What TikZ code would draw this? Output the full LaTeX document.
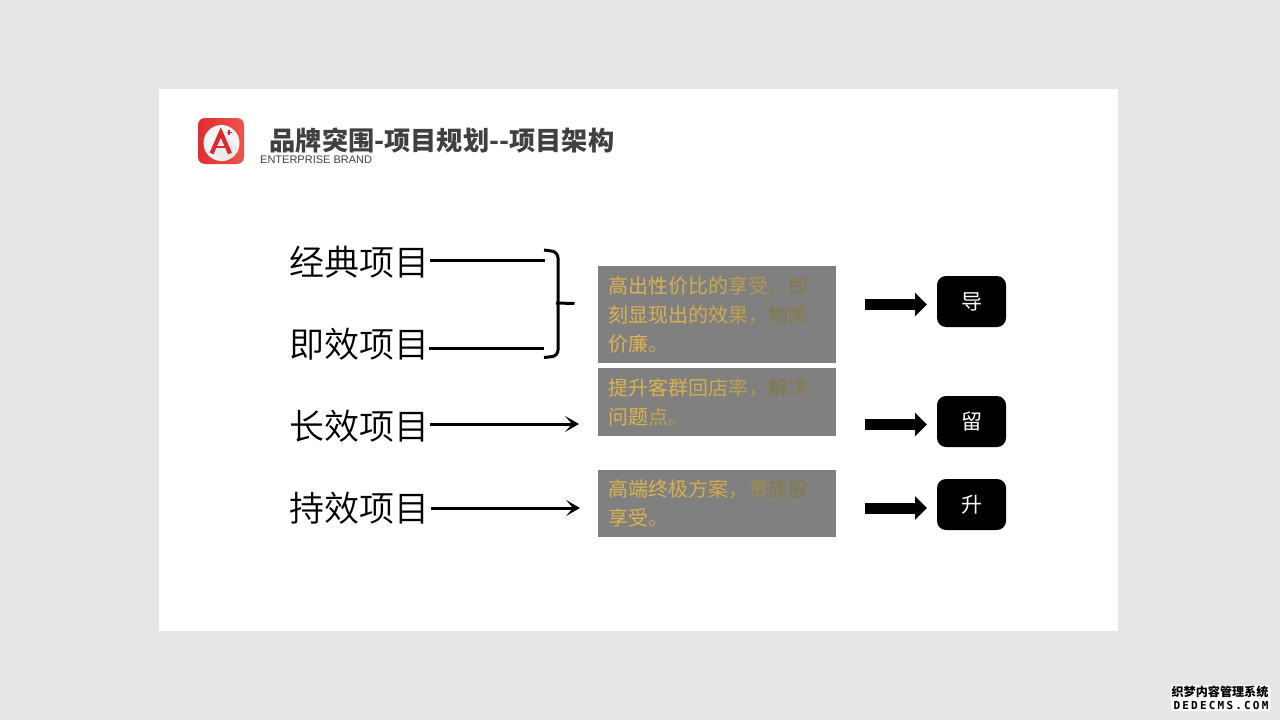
\documentclass[tikz,border=0pt]{standalone}
\usepackage{fontspec}
\usetikzlibrary{arrows.meta}
\setmainfont{Liberation Sans}
\newfontfamily\cjk{Noto Sans CJK SC}
\newfontfamily\cjklight{Noto Sans CJK SC DemiLight}
\newfontfamily\wmlatin[LetterSpace=20]{DejaVu Sans Mono Bold}
\definecolor{goldtxt}{HTML}{DDB24E}
\definecolor{dimtxt}{HTML}{7C7448}
\definecolor{gray808}{HTML}{808080}
\definecolor{logored}{RGB}{222,40,48}
\newcommand\gc[2]{\textcolor{goldtxt!#1!dimtxt}{#2}}
\begin{document}
\begin{tikzpicture}[x=1pt,y=-1pt,
  labeltxt/.style={inner sep=0pt,font={\cjklight\fontsize{35}{35}\selectfont},text height=30.8pt,text depth=4.2pt,black,anchor=center},
  greybox/.style={fill=gray808,inner sep=0pt,minimum width=238pt,text width=218pt,align=left,font={\cjk\fontsize{20}{29}\selectfont}},
  blackbox/.style={fill=black,rounded corners=9pt,minimum width=69pt,minimum height=51pt,inner sep=0pt,text=white,font={\cjk\fontsize{21}{21}\selectfont}},
  thickline/.style={line width=3pt},
  thinarrow/.style={line width=3pt,-{Stealth[length=14pt,width=16pt,inset=7pt]}},
  blockarrow/.style={line width=11pt,-{Triangle[length=12pt,width=23pt]}},
]
\useasboundingbox (0,0) rectangle (1280,720);
\fill[fill={rgb,255:red,230;green,228;blue,231}] (0,0) rectangle (1280,720);
\fill[white] (159,89) rectangle (1118,631);
% logo
\shade[left color={rgb,255:red,226;green,44;blue,48},right color={rgb,255:red,238;green,84;blue,80},rounded corners=7pt] (198,118) rectangle (244,164);
\fill[white!96!black] (221.5,143) circle (18);
\begin{scope}
\clip (221.5,143) circle (18);
\fill[black!8] (221,131) -- (245,155) -- (235,170) -- (212,153) -- cycle;
\end{scope}
\draw[line width=4.2pt,color=logored,line join=miter] (211.5,153.5) -- (220.8,132.5) -- (230,153.5);
\draw[line width=2.6pt,color=logored] (215,147) -- (227,147);
\draw[line width=1.6pt,color=logored] (226.5,132.5) -- (232,132.5) (229.2,129.8) -- (229.2,135.2);
% title
\node[anchor=west,inner sep=0pt,text=black!75,font={\cjk\bfseries\fontsize{26.2}{26}\selectfont}] (title) at (269.5,141) {品牌突围-项目规划--项目架构};
\node[anchor=west,inner sep=0pt,text=black!75,font={\fontsize{11}{11}\selectfont}] (sub) at (260,160) {ENTERPRISE BRAND};
% labels
\node[labeltxt] (l1) at (359,262) {经典项目};
\node[labeltxt] (l2) at (359,344) {即效项目};
\node[labeltxt] (l3) at (359,426) {长效项目};
\node[labeltxt] (l4) at (359,508) {持效项目};
% grey boxes
\node[greybox,minimum height=97pt] (b1) at (717,314.5) {\gc{100}{高}\gc{100}{出}\gc{100}{性}\gc{95}{价}\gc{90}{比}\gc{85}{的}\gc{70}{享}\gc{55}{受}\gc{20}{，}\gc{10}{即}\\
\gc{100}{刻}\gc{100}{显}\gc{100}{现}\gc{95}{出}\gc{90}{的}\gc{85}{效}\gc{70}{果}\gc{55}{，}\gc{5}{物}\gc{10}{美}\\
\gc{100}{价}\gc{100}{廉}\gc{85}{。}};
\node[greybox,minimum height=68pt] (b2) at (717,402) {\gc{100}{提}\gc{100}{升}\gc{100}{客}\gc{95}{群}\gc{90}{回}\gc{85}{店}\gc{70}{率}\gc{55}{，}\gc{5}{解}\gc{10}{决}\\
\gc{100}{问}\gc{100}{题}\gc{75}{点}\gc{55}{。}};
\node[greybox,minimum height=67pt] (b3) at (717,503.5) {\gc{100}{高}\gc{100}{端}\gc{100}{终}\gc{95}{极}\gc{90}{方}\gc{85}{案}\gc{70}{，}\gc{40}{贵}\gc{10}{族}\gc{5}{般}\\
\gc{100}{享}\gc{100}{受}\gc{85}{。}};
% black boxes
\node[blackbox] (k1) at (971.5,301.5) {导};
\node[blackbox] (k2) at (971.5,421.5) {留};
\node[blackbox] (k3) at (971.5,504.5) {升};
% line ends
\coordinate (e1) at (545,260);
\coordinate (e2) at (544,348);
\coordinate (e3) at (579,424);
\coordinate (e4) at (580,508);
\draw[thickline] ([yshift=2pt,xshift=1pt]l1.east) -- (e1);
\draw[thickline] ([yshift=-4pt]l2.east) -- (e2);
\draw[thinarrow] ([yshift=2pt,xshift=1pt]l3.east) -- (e3);
\draw[thinarrow] ([xshift=2pt]l4.east) -- (e4);
% brace
\draw[line width=3pt,line cap=butt,rounded corners=6pt] (544,250) -- (558,252) -- (558,303) (544,357.5) -- (558,356) -- (558,303);
\draw[line width=3pt] (556,303) -- (574.5,303.5);
% block arrows
\coordinate (s1) at (865,304.5); \coordinate (t1) at (927,304.5);
\coordinate (s2) at (865,424.5); \coordinate (t2) at (927,424.5);
\coordinate (s3) at (865,508);   \coordinate (t3) at (927,508);
\draw[blockarrow] (s1) -- (t1);
\draw[blockarrow] (s2) -- (t2);
\draw[blockarrow] (s3) -- (t3);
% watermark
\fill[white,opacity=.85,rounded corners=3pt] (1170.5,685) rectangle (1270.5,711);
\node[inner sep=0pt,text=black,font={\cjk\bfseries\fontsize{12.1}{12}\selectfont}] (wm1) at (1220,692) {织梦内容管理系统};
\node[inner sep=0pt,text=black,font={\wmlatin\fontsize{11}{11}\selectfont}] (wm2) at (1221,705) {DEDECMS.COM};
\end{tikzpicture}
\end{document}
